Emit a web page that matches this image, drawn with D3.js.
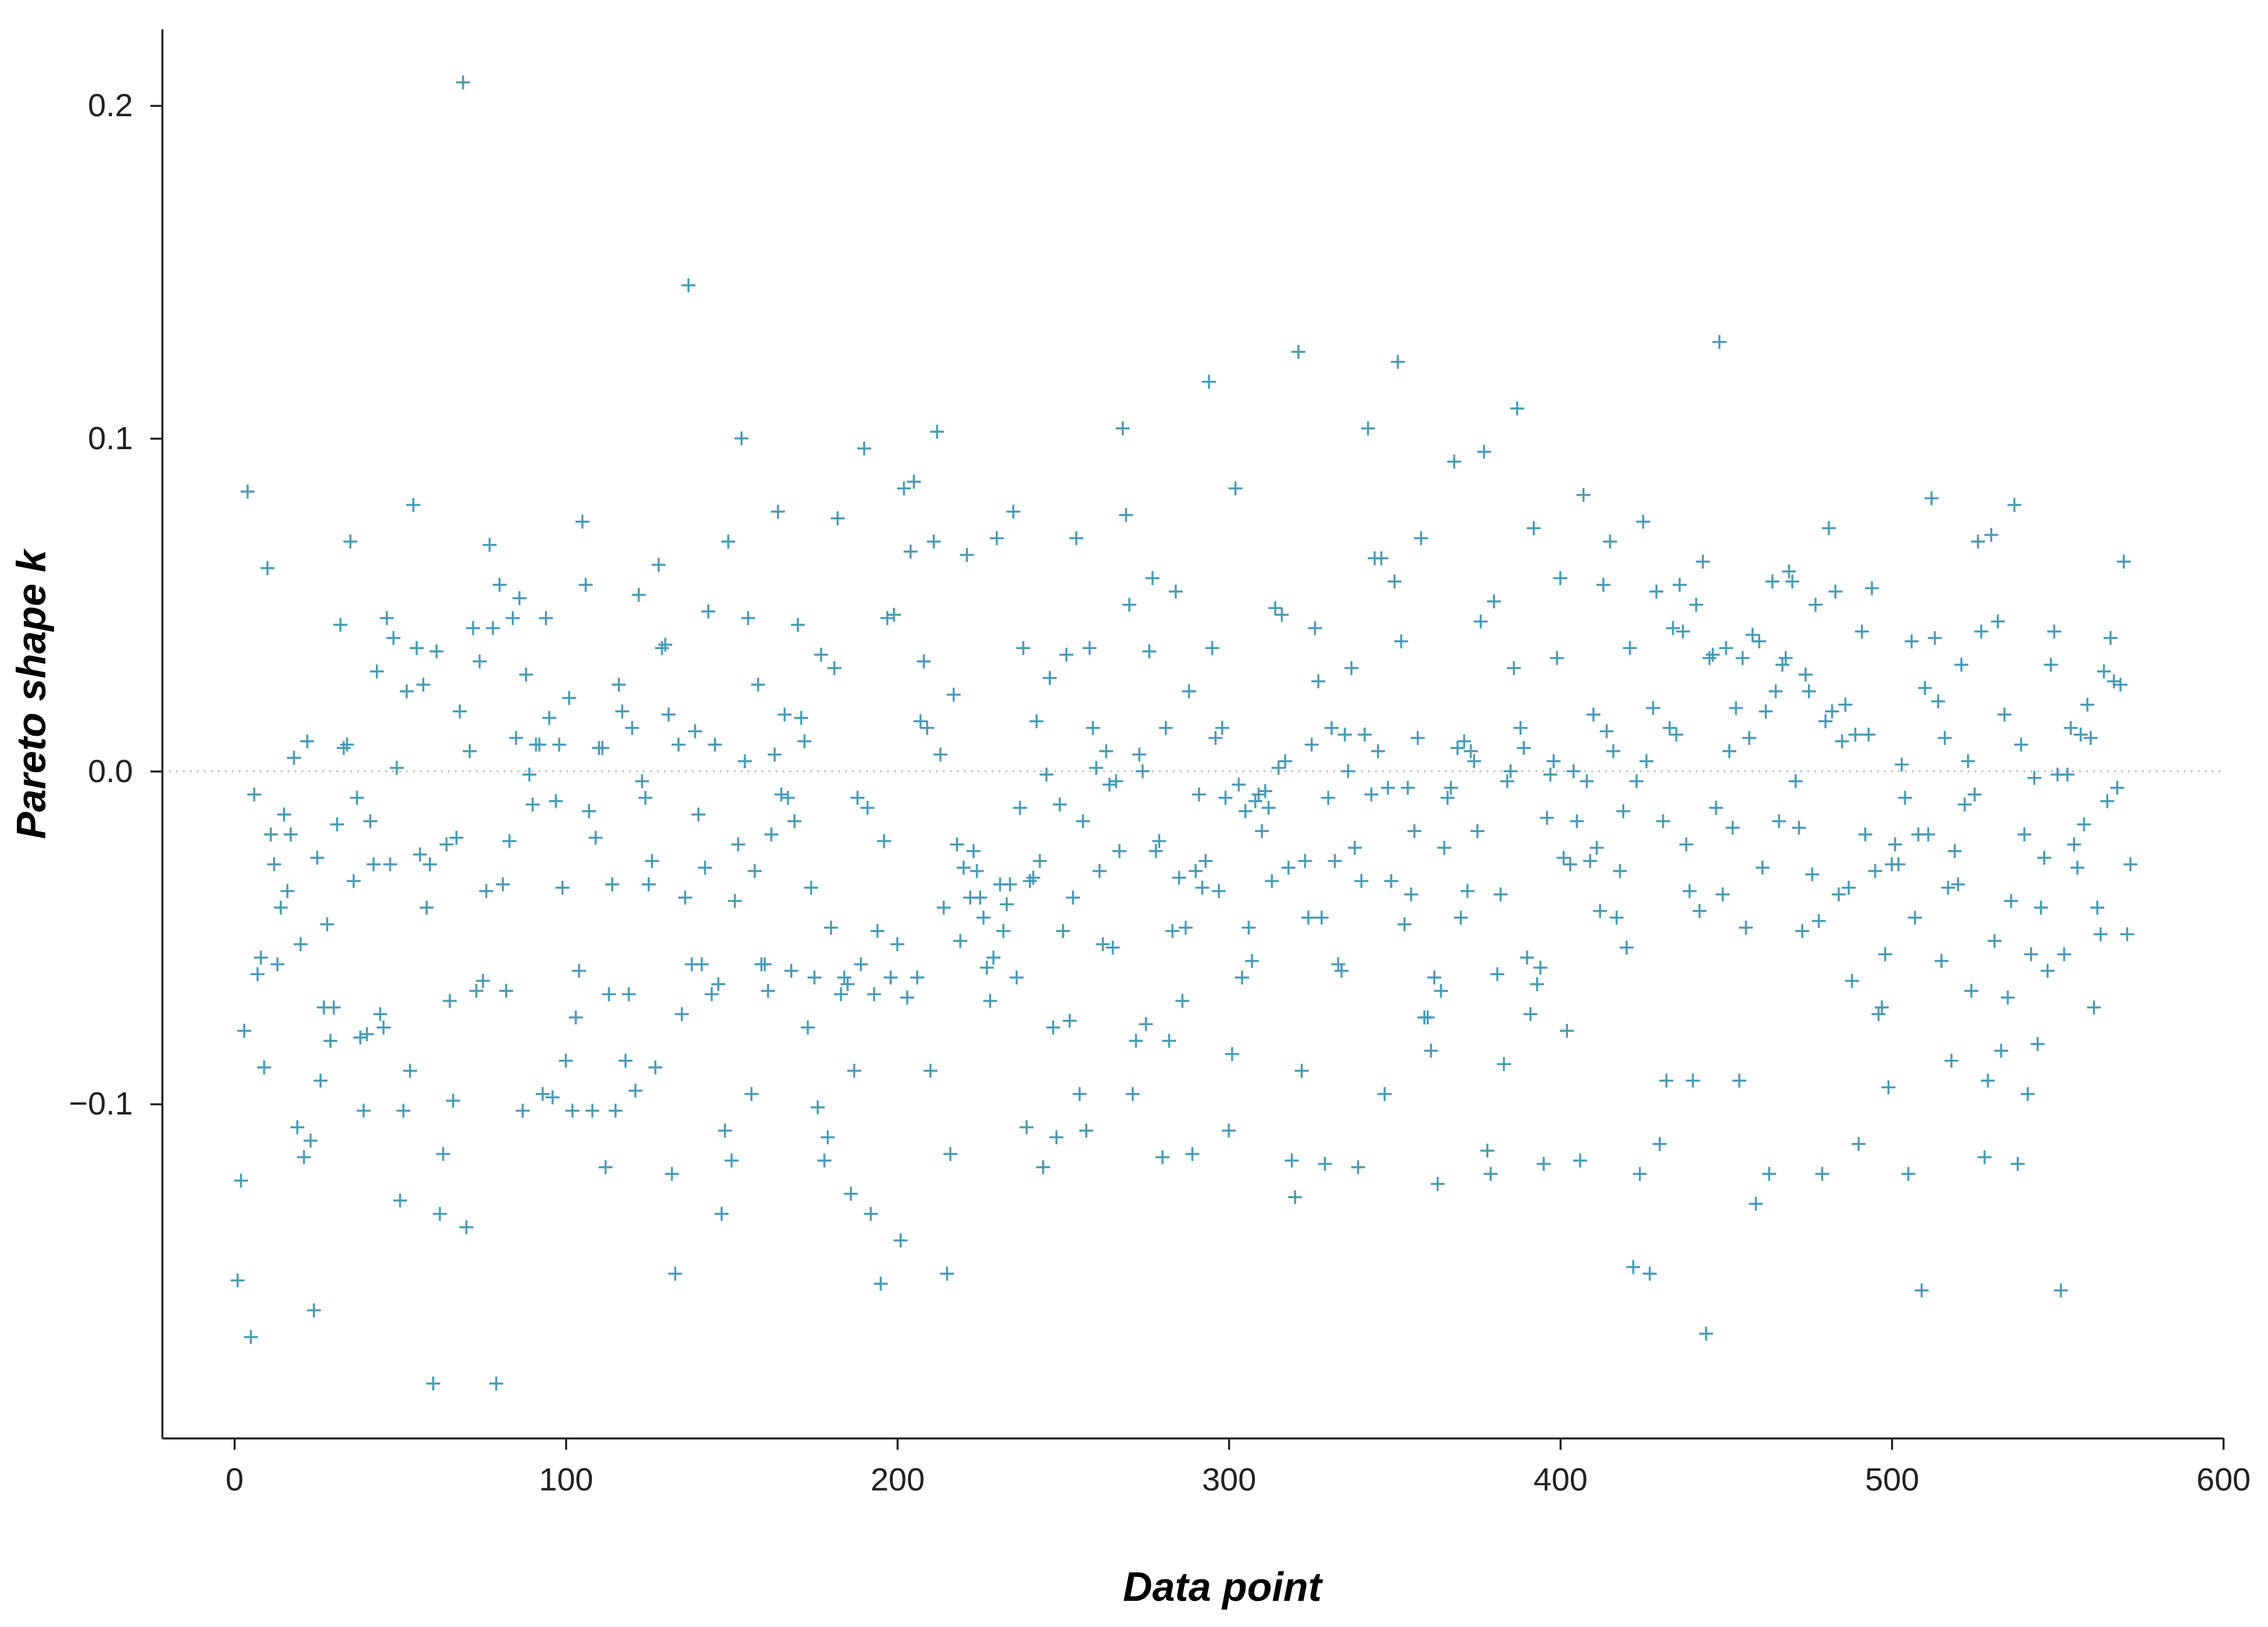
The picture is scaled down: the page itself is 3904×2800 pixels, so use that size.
<!DOCTYPE html>
<html>
<head>
<meta charset="utf-8">
<script src="https://cdn.jsdelivr.net/npm/d3@7"></script>
<style>
  body { margin: 0; background: #fff; }
  text { font-family: Arial, "Liberation Sans", sans-serif; }
</style>
</head>
<body>
<script>
// Pareto k per data point (index = position + 1)
var kValues = [
-0.153,-0.123,-0.078,0.084,-0.170,-0.007,-0.061,-0.056,-0.089,0.061,
-0.019,-0.028,-0.058,-0.041,-0.013,-0.036,-0.019,0.004,-0.107,-0.052,
-0.116,0.009,-0.111,-0.162,-0.026,-0.093,-0.071,-0.046,-0.081,-0.071,
-0.016,0.044,0.007,0.008,0.069,-0.033,-0.008,-0.080,-0.102,-0.079,
-0.015,-0.028,0.030,-0.073,-0.077,0.046,-0.028,0.040,0.001,-0.129,
-0.102,0.024,-0.090,0.080,0.037,-0.025,0.026,-0.041,-0.028,-0.184,
0.036,-0.133,-0.115,-0.022,-0.069,-0.099,-0.020,0.018,0.207,-0.137,
0.006,0.043,-0.066,0.033,-0.063,-0.036,0.068,0.043,-0.184,0.056,
-0.034,-0.066,-0.021,0.046,0.010,0.052,-0.102,0.029,-0.001,-0.010,
0.008,0.008,-0.097,0.046,0.016,-0.098,-0.009,0.008,-0.035,-0.087,
0.022,-0.102,-0.074,-0.060,0.075,0.056,-0.012,-0.102,-0.020,0.007,
0.007,-0.119,-0.067,-0.034,-0.102,0.026,0.018,-0.087,-0.067,0.013,
-0.096,0.053,-0.003,-0.008,-0.034,-0.027,-0.089,0.062,0.037,0.038,
0.017,-0.121,-0.151,0.008,-0.073,-0.038,0.146,-0.058,0.012,-0.013,
-0.058,-0.029,0.048,-0.067,0.008,-0.064,-0.133,-0.108,0.069,-0.117,
-0.039,-0.022,0.100,0.003,0.046,-0.097,-0.030,0.026,-0.058,-0.058,
-0.066,-0.019,0.005,0.078,-0.007,0.017,-0.008,-0.060,-0.015,0.044,
0.016,0.009,-0.077,-0.035,-0.062,-0.101,0.035,-0.117,-0.110,-0.047,
0.031,0.076,-0.067,-0.062,-0.064,-0.127,-0.090,-0.008,-0.058,0.097,
-0.011,-0.133,-0.067,-0.048,-0.154,-0.021,0.046,-0.062,0.047,-0.052,
-0.141,0.085,-0.068,0.066,0.087,-0.062,0.015,0.033,0.013,-0.090,
0.069,0.102,0.005,-0.041,-0.151,-0.115,0.023,-0.022,-0.051,-0.029,
0.065,-0.038,-0.024,-0.030,-0.038,-0.044,-0.059,-0.069,-0.056,0.070,
-0.034,-0.048,-0.040,-0.034,0.078,-0.062,-0.011,0.037,-0.107,-0.033,
-0.032,0.015,-0.027,-0.119,-0.001,0.028,-0.077,-0.110,-0.010,-0.048,
0.035,-0.075,-0.038,0.070,-0.097,-0.015,-0.108,0.037,0.013,0.001,
-0.030,-0.052,0.006,-0.004,-0.053,-0.003,-0.024,0.103,0.077,0.050,
-0.097,-0.081,0.005,0.000,-0.076,0.036,0.058,-0.024,-0.021,-0.116,
0.013,-0.081,-0.048,0.054,-0.032,-0.069,-0.047,0.024,-0.115,-0.030,
-0.007,-0.035,-0.027,0.117,0.037,0.010,-0.036,0.013,-0.008,-0.108,
-0.085,0.085,-0.004,-0.062,-0.012,-0.047,-0.057,-0.009,-0.007,-0.018,
-0.006,-0.011,-0.033,0.049,0.001,0.047,0.003,-0.029,-0.117,-0.128,
0.126,-0.090,-0.027,-0.044,0.008,0.043,0.027,-0.044,-0.118,-0.008,
0.013,-0.027,-0.058,-0.060,0.011,0.000,0.031,-0.023,-0.119,-0.033,
0.011,0.103,-0.007,0.064,0.006,0.064,-0.097,-0.005,-0.033,0.057,
0.123,0.039,-0.046,-0.005,-0.037,-0.018,0.010,0.070,-0.074,-0.074,
-0.084,-0.062,-0.124,-0.066,-0.023,-0.008,-0.005,0.093,0.007,-0.044,
0.009,-0.036,0.006,0.003,-0.018,0.045,0.096,-0.114,-0.121,0.051,
-0.061,-0.037,-0.088,-0.003,0.000,0.031,0.109,0.013,0.007,-0.056,
-0.073,0.073,-0.064,-0.059,-0.118,-0.014,-0.001,0.003,0.034,0.058,
-0.026,-0.078,-0.028,0.000,-0.015,-0.117,0.083,-0.003,-0.027,0.017,
-0.023,-0.042,0.056,0.012,0.069,0.006,-0.044,-0.030,-0.012,-0.053,
0.037,-0.149,-0.003,-0.121,0.075,0.003,-0.151,0.019,0.054,-0.112,
-0.015,-0.093,0.013,0.043,0.011,0.056,0.042,-0.022,-0.036,-0.093,
0.050,-0.042,0.063,-0.169,0.034,0.035,-0.011,0.129,-0.037,0.037,
0.006,-0.017,0.019,-0.093,0.034,-0.047,0.010,0.041,-0.130,0.039,
-0.029,0.018,-0.121,0.057,0.024,-0.015,0.032,0.034,0.060,0.057,
-0.003,-0.017,-0.048,0.029,0.024,-0.031,0.050,-0.045,-0.121,0.015,
0.073,0.018,0.054,-0.037,0.009,0.020,-0.035,-0.063,0.011,-0.112,
0.042,-0.019,0.011,0.055,-0.030,-0.073,-0.071,-0.055,-0.095,-0.028,
-0.022,-0.028,0.002,-0.008,-0.121,0.039,-0.044,-0.019,-0.156,0.025,
-0.019,0.082,0.040,0.021,-0.057,0.010,-0.035,-0.087,-0.024,-0.034,
0.032,-0.010,0.003,-0.066,-0.007,0.069,0.042,-0.116,-0.093,0.071,
-0.051,0.045,-0.084,0.017,-0.068,-0.039,0.080,-0.118,0.008,-0.019,
-0.097,-0.055,-0.002,-0.082,-0.041,-0.026,-0.060,0.032,0.042,-0.001,
-0.156,-0.055,-0.001,0.013,-0.022,-0.029,0.011,-0.016,0.020,0.010,
-0.071,-0.041,-0.049,0.030,-0.009,0.040,0.027,-0.005,0.026,0.063,
-0.049,-0.028
];
var xTicks = [0, 100, 200, 300, 400, 500, 600];
var yTicks = [-0.1, 0.0, 0.1, 0.2];
var xLabel = "Data point";
var yLabel = "Pareto shape k";

var W = 3904, H = 2800;
var mLeft = 279, mRight = 3827, mTop = 50, mBottom = 2475;

var svg = d3.select('body').append('svg')
  .attr('width', W).attr('height', H);

var x = d3.scaleLinear().domain([-21.8, 600]).range([mLeft, mRight]);
var y = d3.scaleLinear().domain([-0.2004, 0.223]).range([mBottom, mTop]);

// zero reference line
svg.append('line')
  .attr('x1', mLeft).attr('x2', mRight)
  .attr('y1', y(0)).attr('y2', y(0))
  .attr('stroke', '#bbb').attr('stroke-width', 3)
  .attr('stroke-dasharray', '3,9');

// axes
var xAxis = svg.append('g')
  .attr('transform', 'translate(0,' + mBottom + ')')
  .call(d3.axisBottom(x).tickValues(xTicks).tickFormat(d3.format('d'))
    .tickSize(20).tickSizeOuter(0).tickPadding(30));
var yAxis = svg.append('g')
  .attr('transform', 'translate(' + mLeft + ',0)')
  .call(d3.axisLeft(y).tickValues(yTicks)
    .tickFormat(function(d) { return d === 0 ? '0.0' : d3.format('.1f')(d); })
    .tickSize(20).tickSizeOuter(0).tickPadding(30));
[xAxis, yAxis].forEach(function(a) {
  a.select('.domain').attr('stroke', '#222').attr('stroke-width', 3.5);
  a.selectAll('.tick line').attr('stroke', '#222').attr('stroke-width', 3.5);
  a.selectAll('.tick text').attr('font-size', 56).attr('fill', '#222')
    .style('font-family', 'Arial, "Liberation Sans", sans-serif');
});

// points as plus marks
var s = 12;
svg.append('g').selectAll('path').data(kValues).join('path')
  .attr('d', function(d, i) {
    var cx = x(i + 1), cy = y(d);
    return 'M' + (cx - s) + ',' + cy + 'H' + (cx + s) + 'M' + cx + ',' + (cy - s) + 'V' + (cy + s);
  })
  .attr('stroke', '#4a9bb5').attr('stroke-width', 3.5).attr('fill', 'none');

// titles
svg.append('text')
  .attr('x', 2104).attr('y', 2755).attr('text-anchor', 'middle')
  .attr('font-size', 70).attr('font-weight', 'bold').attr('font-style', 'italic')
  .text(xLabel);
svg.append('text')
  .attr('transform', 'translate(78,1195) rotate(-90)').attr('text-anchor', 'middle')
  .attr('font-size', 70).attr('font-weight', 'bold').attr('font-style', 'italic')
  .text(yLabel);
</script>
</body>
</html>
